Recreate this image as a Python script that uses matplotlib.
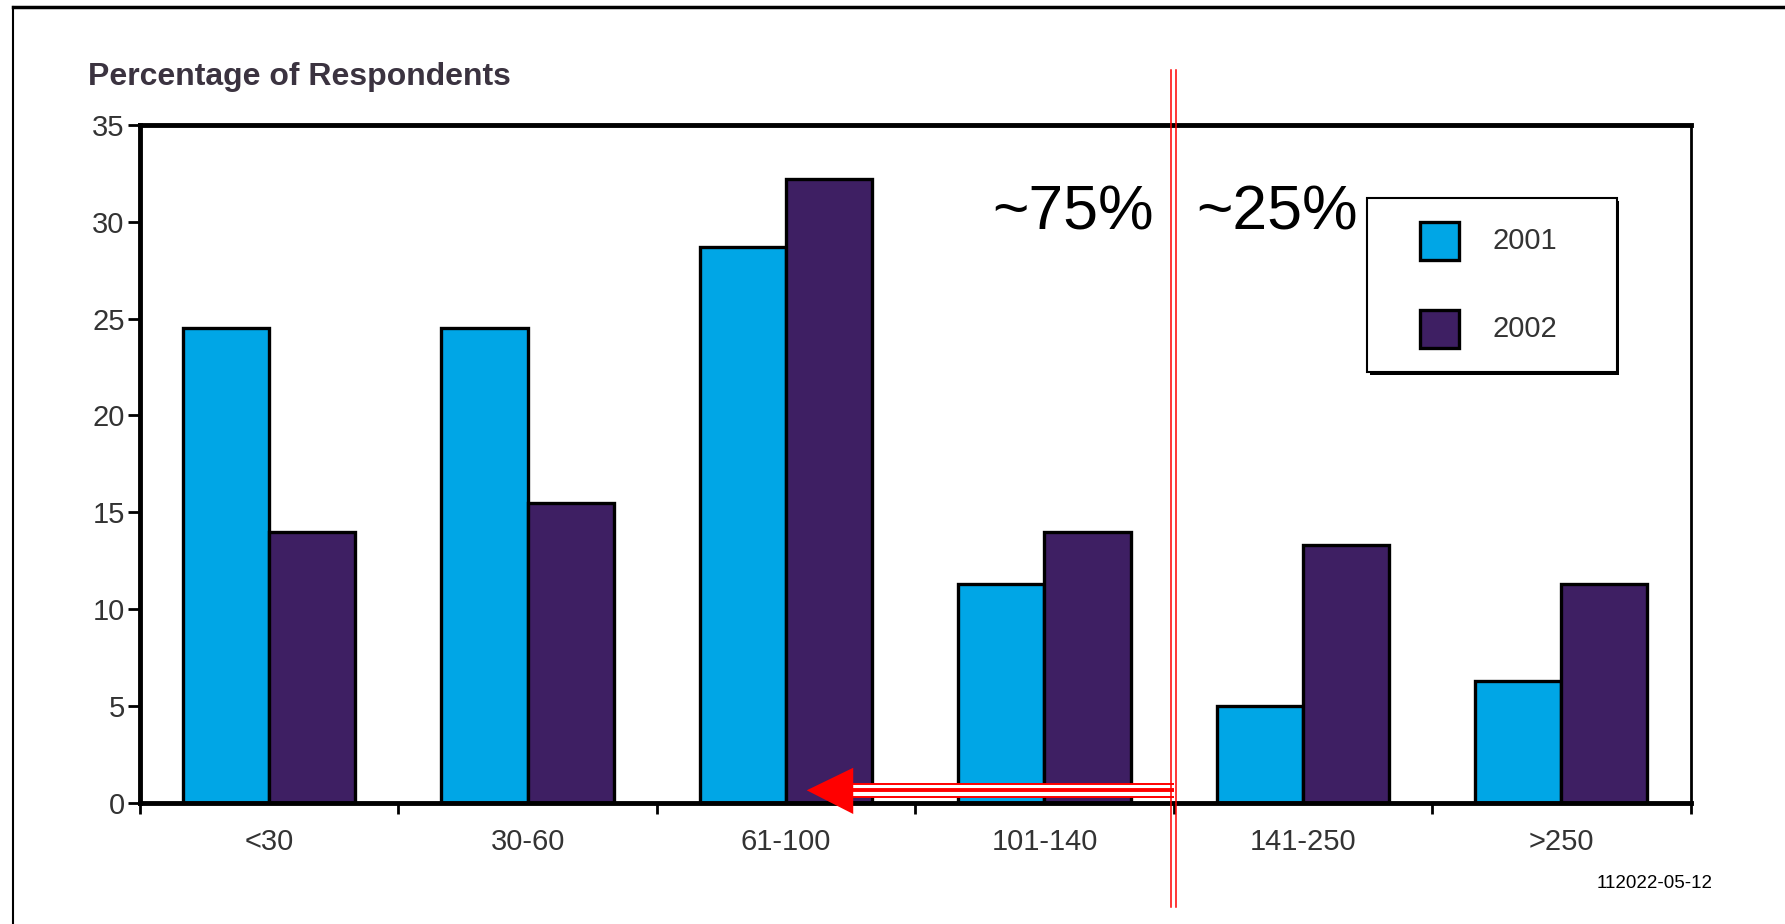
import matplotlib
matplotlib.use("Agg")
import matplotlib.pyplot as plt
from matplotlib.lines import Line2D
from matplotlib.patches import Rectangle, Polygon
import numpy as np

plt.rcParams['font.family'] = ['Liberation Sans', 'DejaVu Sans']

# data
categories = ["<30", "30-60", "61-100", "101-140", "141-250", ">250"]
series_names = ["2001", "2002"]
values_2001 = [24.5, 24.5, 28.7, 11.3, 5.0, 6.3]
values_2002 = [14.0, 15.5, 32.2, 14.0, 13.3, 11.3]
y_ticks = [0, 5, 10, 15, 20, 25, 30, 35]

colors = ["#00a6e6", "#3e1f63"]
text_gray = "#333333"

fig = plt.figure(figsize=(17.85, 9.24), dpi=100)
ax = fig.add_axes([0.07843, 0.13139, 0.86863, 0.73333])

x = np.arange(len(categories))
w = 1 / 3
bars_a = ax.bar(x - w / 2, values_2001, w, color=colors[0], edgecolor="black", linewidth=2.4, zorder=2)
bars_b = ax.bar(x + w / 2, values_2002, w, color=colors[1], edgecolor="black", linewidth=2.4, zorder=2)

ax.set_xlim(-0.5, len(categories) - 0.5)
ax.set_ylim(0, 35)

# ticks: marks at category borders, labels at centres
ax.set_xticks(np.arange(len(categories) + 1) - 0.5)
ax.set_xticklabels([])
ax.set_xticks(x, minor=True)
ax.set_xticklabels(categories, minor=True)
ax.tick_params(axis="x", which="major", direction="out", length=8, width=2, color="black")
ax.tick_params(axis="x", which="minor", length=0, pad=18, labelsize=21, labelcolor=text_gray)
ax.set_yticks(y_ticks)
ax.tick_params(axis="y", direction="out", length=9, width=2, pad=2, labelsize=21, labelcolor=text_gray)

for side in ["left", "bottom", "top"]:
    ax.spines[side].set_linewidth(3.5)
ax.spines["right"].set_linewidth(2.0)

# title over the axis
fig.text(88 / 1785, 1 - 85 / 924, "Percentage of Respondents", fontsize=23, fontweight="bold",
         color="#3b3340", va="baseline", ha="left")

# legend drawn by hand (box is wider than matplotlib pads it)
ax.add_patch(Rectangle((0.7930, 0.6315), 0.1612, 0.2568, transform=ax.transAxes,
                       facecolor="black", edgecolor="none", zorder=6))
ax.add_patch(Rectangle((0.7914, 0.6355), 0.1612, 0.2568, transform=ax.transAxes,
                       facecolor="white", edgecolor="black", linewidth=1.5, zorder=7))
leg_y = [0.8288, 0.6988]
for yy, name, c in zip(leg_y, series_names, colors):
    ax.add_patch(Rectangle((0.8255, yy - 0.028), 0.0252, 0.056, transform=ax.transAxes,
                           facecolor=c, edgecolor="black", linewidth=2.4, zorder=8))
    ax.text(0.8726, yy, name, transform=ax.transAxes, fontsize=21, color=text_gray,
            va="center", ha="left", zorder=8)

# red split line at the 101-140 / 141-250 border
split = 3.5
for dx in (-0.0097, 0.0097):
    ax.plot([split + dx, split + dx], [-5.39, 37.84], color="red", lw=1.1, clip_on=False, zorder=10)

ax.text(3.424, 29.58, "~75%", fontsize=45, ha="right", va="baseline", zorder=9)
ax.text(3.586, 29.58, "~25%", fontsize=45, ha="left", va="baseline", zorder=9)

# striped arrow pointing left
head_base = 2.26
ax.add_patch(Rectangle((head_base, 0.29), split - head_base, 0.645, facecolor="white",
                       edgecolor="none", clip_on=False, zorder=9))
for yy, lw in ((0.935, 1.4), (0.635, 2.8), (0.29, 1.4)):
    ax.plot([head_base, split], [yy, yy], color="red", lw=lw, clip_on=False, zorder=10,
            solid_capstyle="butt")
ax.add_patch(Polygon([[2.08, 0.635], [head_base, 1.80], [head_base, -0.59]], closed=True,
                     facecolor="red", edgecolor="none", clip_on=False, zorder=10))

# outer frame (top and left visible only)
fig.add_artist(Line2D([13 / 1785, 1], [1 - 7 / 924, 1 - 7 / 924], transform=fig.transFigure,
                      color="black", lw=2.5))
fig.add_artist(Line2D([13 / 1785, 13 / 1785], [0, 1 - 7 / 924], transform=fig.transFigure,
                      color="black", lw=1.5))

fig.text(1713 / 1785, 1 - 888 / 924, "112022-05-12", fontsize=13.5, ha="right", va="baseline")

fig.savefig("out.png", dpi=100)
